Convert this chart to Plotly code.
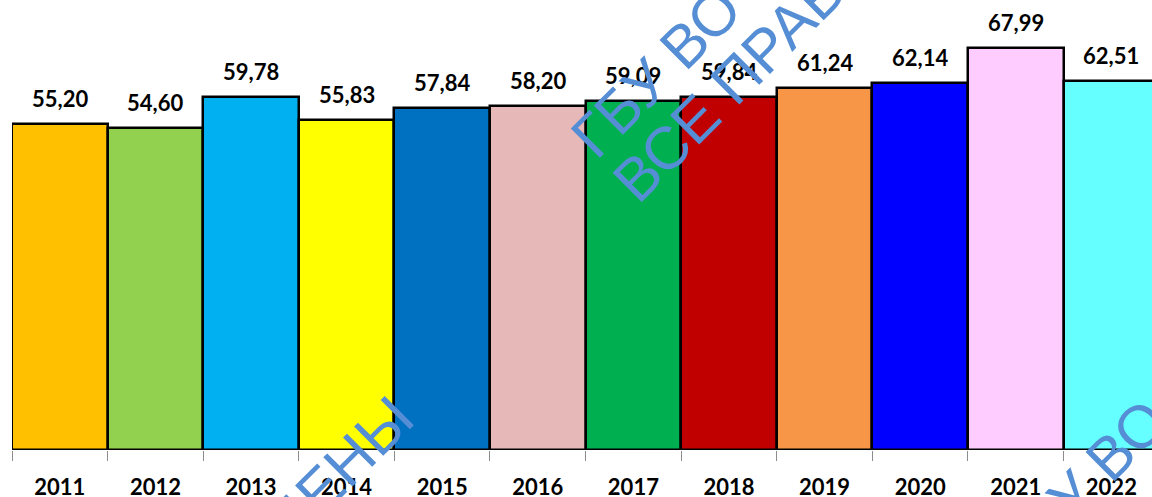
import math
import plotly.graph_objects as go

years = ["2011", "2012", "2013", "2014", "2015", "2016",
         "2017", "2018", "2019", "2020", "2021", "2022"]
values = [55.20, 54.60, 59.78, 55.83, 57.84, 58.20,
          59.09, 59.84, 61.24, 62.14, 67.99, 62.51]
colors = ["#FFC000", "#92D050", "#00B0F0", "#FFFF00", "#0070C0", "#E6B8B7",
          "#00B050", "#C00000", "#F79646", "#0000FF", "#FFCCFF", "#66FFFF"]

W, H = 1152, 497
ML, MR, MT, MB = 12, 0, 0, 47
PW, PH = W - ML - MR, H - MT - MB

fig = go.Figure()
fig.add_trace(go.Bar(
    x=years, y=values,
    marker=dict(color=colors, line=dict(color="black", width=2.5)),
    hoverinfo="skip",
))

label_font = dict(family="Lato", size=22, color="black")
for i, v in enumerate(values):
    fig.add_annotation(
        x=i, y=v, xref="x", yref="y",
        text="<b>" + f"{v:.2f}".replace(".", ",") + "</b>",
        showarrow=False, yanchor="bottom", yshift=10,
        font=label_font,
    )

# watermark (decorative, rotated text)
WM_COLOR = "#558ED5"
WM_SIZE = 60
d = (math.cos(math.radians(45)), -math.sin(math.radians(45)))
nrm = (-math.sin(math.radians(45)), -math.cos(math.radians(45)))


def wm(text, px, py, em_len, from_end=False):
    L = em_len * WM_SIZE
    s = -1 if from_end else 1
    cx = px + s * L / 2 * d[0] + 0.35 * WM_SIZE * nrm[0]
    cy = py + s * L / 2 * d[1] + 0.35 * WM_SIZE * nrm[1]
    fig.add_annotation(
        x=(cx - ML) / PW, y=(MT + PH - cy) / PH, xref="paper", yref="paper",
        text=text, showarrow=False, textangle=-45,
        xanchor="center", yanchor="middle",
        font=dict(family="Liberation Sans", size=WM_SIZE, color=WM_COLOR),
    )


wm("ГБУ ВО", 594, 164, 3.63)
wm("ВСЕ ПРАВА", 636, 209, 5.72)
wm("ЗАЩИЩЕНЫ", 415, 424, 6.03, from_end=True)
wm("ГБУ ВО", 1020, 576, 3.63)

fig.update_layout(
    width=W, height=H,
    margin=dict(l=ML, r=MR, t=MT, b=MB, pad=0),
    paper_bgcolor="white", plot_bgcolor="white",
    bargap=0, showlegend=False,
    xaxis=dict(
        type="category", range=[-0.5, 11.425],
        showgrid=False, zeroline=False, showline=False,
        ticks="outside", tickson="boundaries", ticklen=10,
        tickcolor="#8C8C8C", tickwidth=1,
        tickfont=dict(family="Lato", size=22, color="black"),
        tickprefix="<b>", ticksuffix="</b>",
        ticklabelstandoff=22, automargin=False,
    ),
    yaxis=dict(range=[0, 76.2], visible=False, fixedrange=True,
               automargin=False),
)

fig.write_html(
    "out.html",
    config={"displayModeBar": False},
    post_script="document.body.style.margin='0';document.body.style.overflow='hidden';",
)
